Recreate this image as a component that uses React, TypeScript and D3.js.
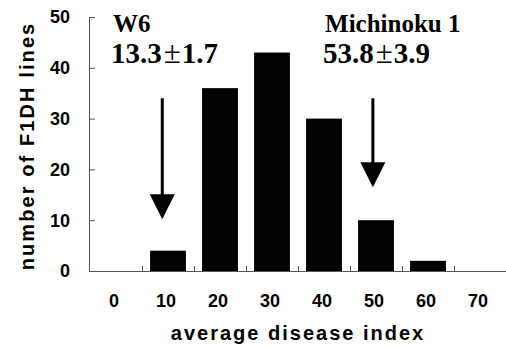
import React from "react";
import * as d3 from "d3";

// disease index classes and number of F1DH lines in each
const categories = [0, 10, 20, 30, 40, 50, 60, 70];
const counts = [0, 4, 36, 43, 30, 10, 2, 0];
const yTicks = [0, 10, 20, 30, 40, 50];

// parents: name, mean ± sd, arrow position (disease index) and arrow tip (count)
const parentNames = ["W6", "Michinoku 1"];
const parentMeans = ["13.3", "53.8"];
const parentSds = ["1.7", "3.9"];
const arrowX = [8.9, 49.4];
const arrowTop = [34, 34];
const arrowTip = [10.2, 16.5];
const labelX = [-0.6, 40.2];

const W = 506;
const H = 348;
const margin = { top: 17, right: 0, bottom: 77, left: 90 };
const sans = "'Liberation Sans', Arial, sans-serif";
const serif = "'Liberation Serif', 'Times New Roman', serif";

export default function App() {
  const x = d3
    .scaleBand<number>()
    .domain(categories)
    .range([margin.left, W - margin.right])
    .paddingInner(0)
    .paddingOuter(0);
  const bw = x.bandwidth();
  const barW = bw * 0.69;
  const y = d3.scaleLinear().domain([0, 50]).range([H - margin.bottom, margin.top]);
  // continuous version of the x axis (value -> px) for arrows and labels
  const xv = d3
    .scaleLinear()
    .domain([0, 10])
    .range([x(0)! + bw / 2, x(10)! + bw / 2]);

  const y0 = y(0);
  const head = 25;

  return (
    <svg
      width={W}
      height={H}
      style={{ position: "absolute", left: 0, top: 0, background: "#fff" }}
    >
      {/* bars */}
      {categories.map((c, i) =>
        counts[i] > 0 ? (
          <rect
            key={c}
            x={x(c)! + (bw - barW) / 2}
            y={y(counts[i])}
            width={barW}
            height={y0 - y(counts[i])}
            fill="#000"
          />
        ) : null
      )}

      {/* y axis */}
      <line x1={margin.left - 0.5} x2={margin.left - 0.5} y1={y(50)} y2={y0} stroke="#555" />
      {yTicks.map((t) => (
        <g key={t}>
          <line x1={margin.left} x2={margin.left + 5} y1={y(t) + 0.5} y2={y(t) + 0.5} stroke="#555" />
          <text
            x={70}
            y={y(t)}
            dy="0.36em"
            textAnchor="end"
            fontFamily={sans}
            fontWeight="bold"
            fontSize={18}
          >
            {t}
          </text>
        </g>
      ))}

      {/* x axis */}
      <line x1={margin.left - 1} x2={W} y1={y0 + 0.5} y2={y0 + 0.5} stroke="#555" />
      {categories.slice(1).map((c) => (
        <line key={c} x1={x(c)! + 0.5} x2={x(c)! + 0.5} y1={y0} y2={y0 - 5} stroke="#555" />
      ))}
      {categories.map((c) => (
        <text
          key={c}
          x={x(c)! + bw / 2 - 2}
          y={307}
          textAnchor="middle"
          fontFamily={sans}
          fontWeight="bold"
          fontSize={18}
        >
          {c}
        </text>
      ))}

      {/* axis titles */}
      <text
        x={298}
        y={340}
        textAnchor="middle"
        fontFamily={sans}
        fontWeight="bold"
        fontSize={20}
        letterSpacing={2}
      >
        average disease index
      </text>
      <text
        transform={`translate(34,146) rotate(-90)`}
        textAnchor="middle"
        fontFamily={sans}
        fontWeight="bold"
        fontSize={20}
        letterSpacing={2.1}
      >
        number of F1DH lines
      </text>

      {/* parent arrows */}
      {arrowX.map((a, i) => {
        const ax = xv(a);
        const tip = y(arrowTip[i]);
        return (
          <g key={i}>
            <line x1={ax} x2={ax} y1={y(arrowTop[i])} y2={tip - head + 2} stroke="#000" strokeWidth={3} />
            <path
              d={`M${ax - head / 2},${tip - head}L${ax + head / 2},${tip - head}L${ax},${tip}Z`}
              fill="#000"
            />
          </g>
        );
      })}

      {/* parent labels */}
      {parentNames.map((n, i) => (
        <g key={n} fontFamily={serif} fontWeight="bold">
          <text x={xv(labelX[i])} y={32} fontSize={25}>
            {n}
          </text>
          <text x={xv(labelX[i]) - 2} y={63} fontSize={29}>
            {parentMeans[i]}
            <tspan dx={2} fontWeight="normal" fontSize={31}>
              {"\u00b1"}
            </tspan>
            <tspan dx={1}>{parentSds[i]}</tspan>
          </text>
        </g>
      ))}
    </svg>
  );
}
